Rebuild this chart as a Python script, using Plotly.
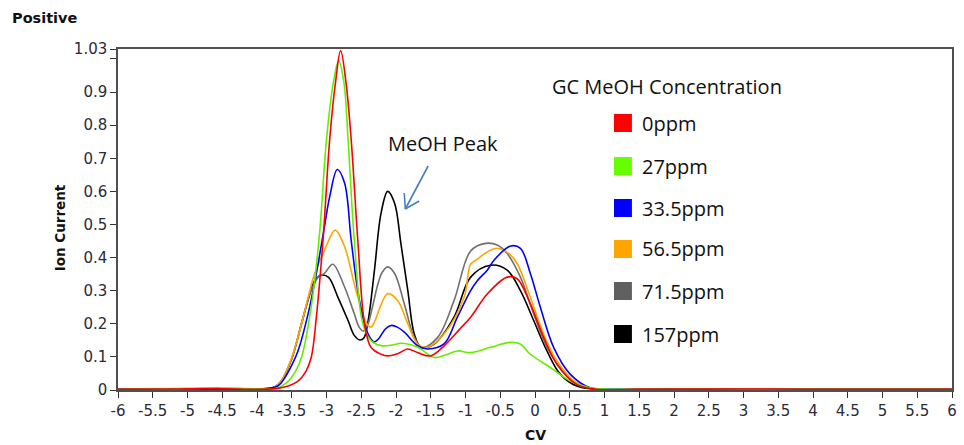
import plotly.graph_objects as go

# ---------------- data ----------------
series_names = ["0ppm", "27ppm", "33.5ppm", "56.5ppm", "71.5ppm", "157ppm"]
series_colors = ["#ff0000", "#66ee00", "#0000ff", "#ffa500", "#707070", "#000000"]
legend_colors = ["#ff0000", "#66ff00", "#0000ff", "#ffa500", "#606060", "#000000"]

red_x = [-6, -5.2, -4.5, -4, -3.7, -3.55, -3.41, -3.3, -3.22, -3.146, -3.05, -2.954, -2.87, -2.797,
         -2.72, -2.645, -2.55, -2.453, -2.36, -2.215, -2.12, -1.97, -1.833, -1.69, -1.5, -1.3, -1.1,
         -0.926, -0.687, -0.4, -0.257, -0.067, 0.125, 0.315, 0.6, 0.89, 1.5, 3, 4.5, 6]
red_y = [0.002, 0.003, 0.004, 0.002, 0.005, 0.012, 0.027, 0.055, 0.098, 0.22, 0.453, 0.757, 0.93, 1.025,
         0.93, 0.757, 0.453, 0.2, 0.129, 0.108, 0.103, 0.11, 0.124, 0.113, 0.103, 0.135, 0.18,
         0.22, 0.29, 0.341, 0.336, 0.26, 0.159, 0.078, 0.017, 0.002, 0.002, 0.003, 0.002, 0.002]

green_x = [-6, -5, -4.6, -4.4, -4, -3.7, -3.55, -3.45, -3.36, -3.22, -3.1, -3.0, -2.9, -2.825,
           -2.75, -2.69, -2.6, -2.477, -2.36, -2.215, -2.05, -1.93, -1.69, -1.45, -1.26, -1.117,
           -0.926, -0.64, -0.354, -0.21, -0.067, 0.22, 0.506, 0.79, 1.2, 2.5, 4, 6]
green_y = [0.002, 0.004, 0.006, 0.006, 0.004, 0.006, 0.027, 0.055, 0.098, 0.25, 0.473, 0.757, 0.93, 0.995,
           0.93, 0.757, 0.453, 0.2, 0.149, 0.134, 0.136, 0.141, 0.129, 0.098, 0.108, 0.118,
           0.113, 0.129, 0.144, 0.139, 0.108, 0.068, 0.027, 0.007, 0.002, 0.003, 0.002, 0.002]

blue_x = [-6, -5, -4.5, -4, -3.7, -3.6, -3.5, -3.41, -3.265, -3.146, -3.03, -2.954, -2.845, -2.74,
          -2.645, -2.55, -2.453, -2.38, -2.31, -2.25, -2.15, -2.07, -1.98, -1.88, -1.69, -1.547,
          -1.31, -1.117, -0.926, -0.83, -0.687, -0.59, -0.35, -0.21, -0.067, 0.077, 0.268, 0.506,
          0.79, 1.2, 2.5, 4, 6]
blue_y = [0.003, 0.002, 0.003, 0.002, 0.012, 0.037, 0.075, 0.118, 0.23, 0.352, 0.493, 0.584, 0.666, 0.625,
          0.453, 0.3, 0.2, 0.16, 0.145, 0.155, 0.185, 0.195, 0.19, 0.175, 0.134, 0.124,
          0.139, 0.22, 0.30, 0.33, 0.362, 0.392, 0.435, 0.428, 0.352, 0.25, 0.129, 0.048,
          0.007, 0.002, 0.003, 0.002, 0.002]

orange_x = [-6, -5.3, -4.6, -4, -3.75, -3.65, -3.5, -3.36, -3.24, -3.17, -3.03, -2.874, -2.74, -2.6,
            -2.5, -2.42, -2.36, -2.3, -2.22, -2.12, -1.976, -1.83, -1.69, -1.547, -1.31, -1.02,
            -0.926, -0.83, -0.687, -0.544, -0.376, -0.257, -0.067, 0.125, 0.315, 0.6, 0.9, 1.5, 3,
            4.5, 6]
orange_y = [0.003, 0.004, 0.006, 0.003, 0.008, 0.027, 0.098, 0.2, 0.30, 0.352, 0.422, 0.483, 0.433, 0.32,
            0.245, 0.2, 0.19, 0.21, 0.255, 0.291, 0.27, 0.2, 0.139, 0.129, 0.169, 0.28,
            0.38, 0.395, 0.417, 0.428, 0.412, 0.382, 0.28, 0.169, 0.088, 0.022, 0.003, 0.002, 0.003,
            0.002, 0.002]

gray_x = [-6, -5, -4, -3.75, -3.65, -3.5, -3.36, -3.24, -3.12, -3.03, -2.91, -2.74, -2.6, -2.53,
          -2.47, -2.41, -2.34, -2.26, -2.2, -2.12, -2.02, -1.88, -1.737, -1.62, -1.40, -1.165,
          -0.926, -0.71, -0.544, -0.40, -0.21, -0.019, 0.172, 0.363, 0.6, 0.9, 1.5, 3, 4.5, 6]
gray_y = [0.002, 0.003, 0.002, 0.008, 0.027, 0.095, 0.2, 0.29, 0.341, 0.352, 0.38, 0.311, 0.23, 0.19,
          0.178, 0.195, 0.25, 0.32, 0.355, 0.372, 0.352, 0.26, 0.159, 0.129, 0.159, 0.27,
          0.42, 0.443, 0.438, 0.412, 0.341, 0.23, 0.129, 0.068, 0.017, 0.003, 0.002, 0.003, 0.002,
          0.002]

black_x = [-6, -5, -4, -3.75, -3.65, -3.5, -3.36, -3.24, -3.17, -3.07, -2.97, -2.835, -2.69, -2.6,
           -2.52, -2.46, -2.4, -2.31, -2.215, -2.12, -2.02, -1.93, -1.83, -1.737, -1.64, -1.45,
           -1.165, -0.926, -0.64, -0.40, -0.21, -0.019, 0.172, 0.363, 0.6, 0.9, 1.5, 3, 4.5, 6]
black_y = [0.002, 0.002, 0.003, 0.008, 0.027, 0.095, 0.2, 0.29, 0.33, 0.347, 0.34, 0.28, 0.21, 0.165,
           0.151, 0.158, 0.21, 0.362, 0.534, 0.6, 0.564, 0.443, 0.30, 0.169, 0.129, 0.139,
           0.22, 0.341, 0.377, 0.362, 0.30, 0.21, 0.118, 0.048, 0.012, 0.002, 0.002, 0.003, 0.002,
           0.002]

series_x = [red_x, green_x, blue_x, orange_x, gray_x, black_x]
series_y = [red_y, green_y, blue_y, orange_y, gray_y, black_y]

x_ticks = [i * 0.5 - 6 for i in range(25)]
x_ticklabels = ["-6", "-5.5", "-5", "-4.5", "-4", "-3.5", "-3", "-2.5", "-2", "-1.5", "-1", "-0.5",
                "0", "0.5", "1", "1.5", "2", "2.5", "3", "3.5", "4", "4.5", "5", "5.5", "6"]
y_ticks = [0, 0.1, 0.2, 0.3, 0.4, 0.5, 0.6, 0.7, 0.8, 0.9, 1.0, 1.03]
y_ticklabels = ["0", "0.1", "0.2", "0.3", "0.4", "0.5", "0.6", "0.7", "0.8", "0.9", "", "1.03"]

# ---------------- layout geometry (pixels) ----------------
W, H = 964, 445
PL, PR, PT, PB = 118, 957, 49, 390


def px(xp):
    return (xp - PL) / (PR - PL)


def py(yp):
    return (PB - yp) / (PB - PT)


fig = go.Figure()
draw_order = [5, 4, 3, 2, 1, 0]
for i in draw_order:
    fig.add_trace(go.Scatter(
        x=series_x[i], y=series_y[i], mode="lines", name=series_names[i],
        line=dict(color=series_colors[i], width=1.6, shape="spline", smoothing=1.0),
        showlegend=False))

tick_font = dict(family="DejaVu Sans", size=15, color="#2a2a3a")
label_font = "Open Sans"

fig.update_layout(
    width=W, height=H,
    margin=dict(l=PL, r=W - PR, t=PT, b=H - PB),
    paper_bgcolor="white", plot_bgcolor="white",
    xaxis=dict(range=[-6, 6], tickvals=x_ticks, ticktext=x_ticklabels, tickfont=tick_font,
               ticks="outside", ticklen=6, tickcolor="#333", tickwidth=1.3,
               showline=True, linecolor="#505050", linewidth=1.5, mirror=True,
               showgrid=False, zeroline=False),
    yaxis=dict(range=[0, 1.03], tickvals=y_ticks, ticktext=y_ticklabels, tickfont=tick_font,
               ticks="outside", ticklen=6, tickcolor="#333", tickwidth=1.3,
               showline=True, linecolor="#505050", linewidth=1.5, mirror=True,
               showgrid=False, zeroline=False),
)

annotations = []
shapes = []

# titles
annotations.append(dict(text="<b>Positive</b>", xref="paper", yref="paper", x=px(9), y=py(18),
                        xanchor="left", yanchor="middle", showarrow=False,
                        font=dict(family="DejaVu Sans", size=14.5, color="#111")))
annotations.append(dict(text="<b>Ion Current</b>", xref="paper", yref="paper", x=px(60), y=py(228),
                        xanchor="center", yanchor="middle", textangle=-90, showarrow=False,
                        font=dict(family="DejaVu Sans", size=13.5, color="#111")))
annotations.append(dict(text="<b>CV</b>", xref="paper", yref="paper", x=px(538), y=py(435),
                        xanchor="center", yanchor="middle", showarrow=False,
                        font=dict(family="DejaVu Sans", size=14, color="#111")))

# legend
annotations.append(dict(text="GC MeOH Concentration", xref="paper", yref="paper", x=px(670), y=py(86),
                        xanchor="center", yanchor="middle", showarrow=False,
                        font=dict(family=label_font, size=20, color="#111")))
legend_y = [123, 166, 208, 249, 291, 334]
for i, name in enumerate(series_names):
    yc = legend_y[i]
    shapes.append(dict(type="rect", xref="paper", yref="paper",
                       x0=px(617), x1=px(635), y0=py(yc + 9), y1=py(yc - 9),
                       fillcolor=legend_colors[i], line=dict(width=0)))
    annotations.append(dict(text=name, xref="paper", yref="paper", x=px(643), y=py(yc),
                            xanchor="left", yanchor="middle", showarrow=False,
                            font=dict(family=label_font, size=20, color="#111")))

# MeOH Peak callout
annotations.append(dict(text="MeOH Peak", xref="paper", yref="paper", x=px(445), y=py(143),
                        xanchor="center", yanchor="middle", showarrow=False,
                        font=dict(family=label_font, size=20, color="#111")))
arrow_c = "#4a7ebb"
for (x0, y0, x1, y1) in [(430, 166, 407, 209), (407, 209, 406, 193), (407, 209, 421, 201)]:
    shapes.append(dict(type="line", xref="paper", yref="paper",
                       x0=px(x0), y0=py(y0), x1=px(x1), y1=py(y1),
                       line=dict(color=arrow_c, width=1.6)))

fig.update_layout(annotations=annotations, shapes=shapes)
fig.write_html("out.html")
